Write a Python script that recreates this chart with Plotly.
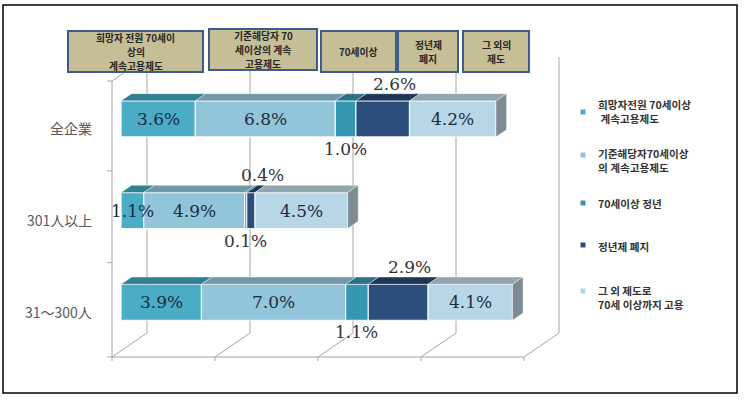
import plotly.graph_objects as go

# ---------------- data ----------------
categories = ['全企業', '301人以上', '31～300人']
s1 = [3.6, 1.1, 3.9]   # 희망자 전원 70세이상 계속고용제도
s2 = [6.8, 4.9, 7.0]   # 기준해당자 70세이상의 계속고용제도
s3 = [1.0, 0.1, 1.1]   # 70세이상 정년
s4 = [2.6, 0.4, 2.9]   # 정년제 폐지
s5 = [4.2, 4.5, 4.1]   # 그 외 제도
series = [s1, s2, s3, s4, s5]
legend_names = ['희망자전원 70세이상<br> 계속고용제도',
                '기준해당자70세이상<br>의 계속고용제도',
                '70세이상 정년',
                '정년제 폐지',
                '그 외 제도로<br>70세 이상까지 고용']
header_labels = [['희망자 전원 70세이', '상의', '계속고용제도'],
                 ['기준해당자 70', '세이상의 계속', '고용제도'],
                 ['70세이상'],
                 ['정년제', '폐지'],
                 ['그 외의', '제도']]
grid_ticks = [0, 5, 10, 15, 20]

# ---------------- styles ----------------
front_colors = ['#4BACC6', '#93C5DA', '#3796B1', '#2C4E7C', '#B8D7E6']
top_colors = ['#2F7F95', '#7098A8', '#2A7288', '#1E3759', '#93A5AF']
side_color = '#7D8B95'
grid_color = '#A6A6A6'
label_mode = ['in', 'in', 'below', 'above', 'in']

W, H = 746, 405
PXX = 20.6          # px per percent
PXY = 91.7          # px per row
X0, Y0 = 112, 308.5
DX = 35 / PXX
DY = 24 / PXY
DF, DB = 0.26, 0.56
HALF = 18 / PXY
FLOOR = (Y0 - 357) / PXY
TOP = (Y0 - 81) / PXY
rows = [2, 1, 0]

fig = go.Figure()
shapes = []


def gline(x0, y0, x1, y1):
    shapes.append(dict(type='line', xref='x', yref='y', x0=x0, y0=y0, x1=x1, y1=y1,
                       layer='below', line=dict(color=grid_color, width=1)))


# 3D frame / gridlines
for t in grid_ticks:
    gline(t + DX, FLOOR + DY, t + DX, TOP + DY)      # back wall gridline
    gline(t, FLOOR, t + DX, FLOOR + DY)              # floor diagonal
    gline(t, FLOOR, t, FLOOR - 4 / PXY)              # front tick
gline(grid_ticks[0], FLOOR, grid_ticks[-1], FLOOR)   # front floor line
gline(0, FLOOR, 0, TOP)                              # front value axis
gline(0, TOP, DX, TOP + DY)                          # side wall top
for yb in [FLOOR, 0.5, 1.5, TOP]:
    gline(0, yb, -5 / PXX, yb)

annotations = []
cum = [0.0] * len(categories)
for k, vals in enumerate(series):
    fig.add_bar(y=[r + DY * DF for r in rows], x=vals,
                base=[c + DX * DF for c in cum], orientation='h', width=2 * HALF,
                marker=dict(color=front_colors[k],
                            line=dict(color='rgba(255,255,255,0.85)', width=1.2)),
                showlegend=False, hoverinfo='skip')
    xs, ys = [], []
    for i, r in enumerate(rows):
        a, b = cum[i], cum[i] + vals[i]
        yf = r + DY * DF + HALF
        yb = r + DY * DB + HALF
        xs += [a + DX * DF, b + DX * DF, b + DX * DB, a + DX * DB, a + DX * DF, None]
        ys += [yf, yf, yb, yb, yf, None]
        mid = (a + b) / 2
        txt = f'{vals[i]:.1f}%'
        if label_mode[k] == 'in':
            annotations.append(dict(x=mid + DX * DF, y=r + DY * DF, text=txt,
                                    showarrow=False, xref='x', yref='y', yanchor='middle',
                                    font=dict(family='DejaVu Serif', size=17, color='#1B2D45')))
        elif label_mode[k] == 'below':
            annotations.append(dict(x=mid + DX * DF, y=r + DY * DF - HALF - 12 / PXY, text=txt,
                                    showarrow=False, xref='x', yref='y', yanchor='middle',
                                    font=dict(family='DejaVu Serif', size=17, color='#333333')))
        else:
            annotations.append(dict(x=mid + DX * (DF + DB) / 2 + 0.3, y=r + DY * DB + HALF + 10 / PXY,
                                    text=txt, showarrow=False, xref='x', yref='y', yanchor='middle',
                                    font=dict(family='DejaVu Serif', size=17, color='#333333')))
    fig.add_scatter(x=xs, y=ys, fill='toself', fillcolor=top_colors[k], mode='lines',
                    line=dict(color='rgba(255,255,255,0.5)', width=0.8),
                    showlegend=False, hoverinfo='skip')
    cum = [c + v for c, v in zip(cum, vals)]

# side faces at bar ends
xs, ys = [], []
for i, r in enumerate(rows):
    e = cum[i]
    xs += [e + DX * DF, e + DX * DF, e + DX * DB, e + DX * DB, e + DX * DF, None]
    ys += [r + DY * DF - HALF, r + DY * DF + HALF, r + DY * DB + HALF, r + DY * DB - HALF,
           r + DY * DF - HALF, None]
fig.add_scatter(x=xs, y=ys, fill='toself', fillcolor=side_color, mode='lines',
                line=dict(color='rgba(255,255,255,0.5)', width=0.8),
                showlegend=False, hoverinfo='skip')

# category labels
for cat, r in zip(categories, rows):
    annotations.append(dict(x=-18 / PXX, y=r - 3 / PXY, text=cat, showarrow=False,
                            xref='x', yref='y', xanchor='right', yanchor='middle',
                            font=dict(family='Noto Sans CJK JP', size=14, color='#595959')))


def paper_text(xpx, ypx, text, size, color, xanchor='center', align='center'):
    annotations.append(dict(x=xpx / W, y=1 - ypx / H, xref='paper', yref='paper',
                            xanchor=xanchor, yanchor='middle', align=align, borderpad=0,
                            text='<b>' + text + '</b>', showarrow=False,
                            font=dict(family='Noto Sans CJK KR', size=size, color=color)))


# header call-out boxes (pixel layout)
box_px = [(68, 31, 203, 72), (209, 29, 317, 70), (321, 31, 396, 72),
          (398, 31, 458, 72), (463, 31, 529, 72)]
HDR_LINE = 13.6
for (x0, y0, x1, y1), lines in zip(box_px, header_labels):
    shapes.append(dict(type='rect', xref='paper', yref='paper',
                       x0=x0 / W, x1=x1 / W, y0=1 - y1 / H, y1=1 - y0 / H,
                       fillcolor='#C5BE97', line=dict(color='#3D5C8C', width=2), layer='above'))
    cy = (y0 + y1) / 2 + 0.5
    n = len(lines)
    for j, ln in enumerate(lines):
        paper_text((x0 + x1) / 2, cy + (j - (n - 1) / 2) * HDR_LINE, ln, 9.8, '#262626')

# legend (manual)
leg_marker_py = [112, 155, 203, 245, 291]
leg_text_py = [111, 160, 203, 246, 297]
for k, name in enumerate(legend_names):
    my = leg_marker_py[k]
    shapes.append(dict(type='rect', xref='paper', yref='paper',
                       x0=580.5 / W, x1=585.5 / W, y0=1 - (my + 2.5) / H, y1=1 - (my - 2.5) / H,
                       fillcolor=front_colors[k], line=dict(width=0)))
    paper_text(597, leg_text_py[k], name, 10.6, '#333333', 'left', 'left')

# outer frame
shapes.append(dict(type='rect', xref='paper', yref='paper', x0=3 / W, x1=737 / W,
                   y0=1 - 393 / H, y1=1 - 5 / H, line=dict(color='#000000', width=1.5)))

fig.update_layout(
    width=W, height=H, margin=dict(l=0, r=0, t=0, b=0),
    paper_bgcolor='white', plot_bgcolor='white', barmode='overlay', showlegend=False,
    xaxis=dict(range=[-X0 / PXX, (W - X0) / PXX], visible=False, fixedrange=True),
    yaxis=dict(range=[(Y0 - H) / PXY, Y0 / PXY], visible=False, fixedrange=True),
    shapes=shapes, annotations=annotations,
)
fig.write_html('out.html', config={'displayModeBar': False},
               post_script="document.body.style.margin='0';")
